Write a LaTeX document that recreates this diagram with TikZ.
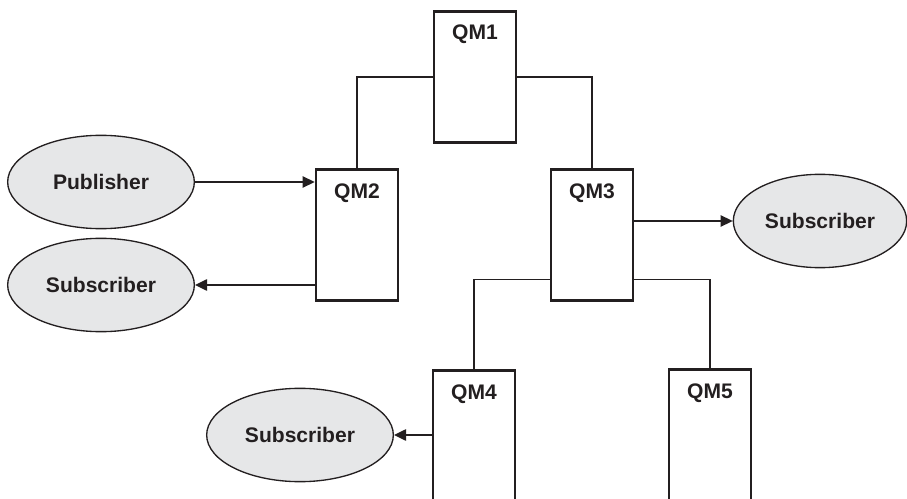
\documentclass[tikz,border=0pt]{standalone}
\usepackage{fontspec}
\setmainfont{Liberation Sans}
\usetikzlibrary{arrows.meta,shapes.geometric}
\definecolor{ink}{HTML}{231F20}
\definecolor{oval}{HTML}{E6E7E8}

\begin{document}
\begin{tikzpicture}[x=0.75pt,y=-0.75pt,
  font=\fontsize{15.8}{19}\selectfont\bfseries,>={Triangle[length=9pt,width=8.5pt]},
  qm/.style={draw=ink,line width=2pt,minimum width=61.5pt,minimum height=98pt,inner sep=0pt},
  qmtxt/.style={anchor=base,text=ink,inner sep=0pt},
  app/.style={ellipse,draw=ink,line width=1pt,fill=oval,minimum width=140pt,
              minimum height=70pt,inner sep=0pt,text=ink},
  link/.style={draw=ink,line width=1.1pt},
  arr/.style={link,->},
]
  \clip (0,0) rectangle (907,499);

  \node[qm] (qm1) at (475,77)  {};
  \node[qm] (qm2) at (357,235) {};
  \node[qm] (qm3) at (592,235) {};
  \node[qm] (qm4) at (474,436) {};
  \node[qm] (qm5) at (710,435) {};
  \node[qmtxt] (qm1t) at ([yshift=-22pt]qm1.north) {QM1};
  \node[qmtxt] (qm2t) at ([yshift=-22.5pt]qm2.north) {QM2};
  \node[qmtxt] (qm3t) at ([yshift=-22.5pt]qm3.north) {QM3};
  \node[qmtxt] (qm4t) at ([yshift=-22.5pt]qm4.north) {QM4};
  \node[qmtxt] (qm5t) at ([yshift=-22.5pt]qm5.north) {QM5};

  \node[app] (pub)  at (101,182) {Publisher};
  \node[app] (sub1) at (101,285) {Subscriber};
  \node[app,minimum width=130pt] (sub2) at (820,221) {Subscriber};
  \node[app] (sub3) at (300,435) {Subscriber};

  \draw[link] (qm1.west) -| (qm2.north);
  \draw[link] (qm1.east) -| (qm3.north);
  \draw[link] ([yshift=16.5pt]qm3.south west) -| (qm4.north);
  \draw[link] ([yshift=16.5pt]qm3.south east) -| (qm5.north);

  \draw[arr] (pub.east) -- (pub.east -| qm2.west);
  \draw[arr] (sub1.east -| qm2.west) -- (sub1.east);
  \draw[arr] (qm3.east |- sub2.west) -- (sub2.west);
  \draw[arr] (sub3.east -| qm4.west) -- (sub3.east);
\end{tikzpicture}
\end{document}
